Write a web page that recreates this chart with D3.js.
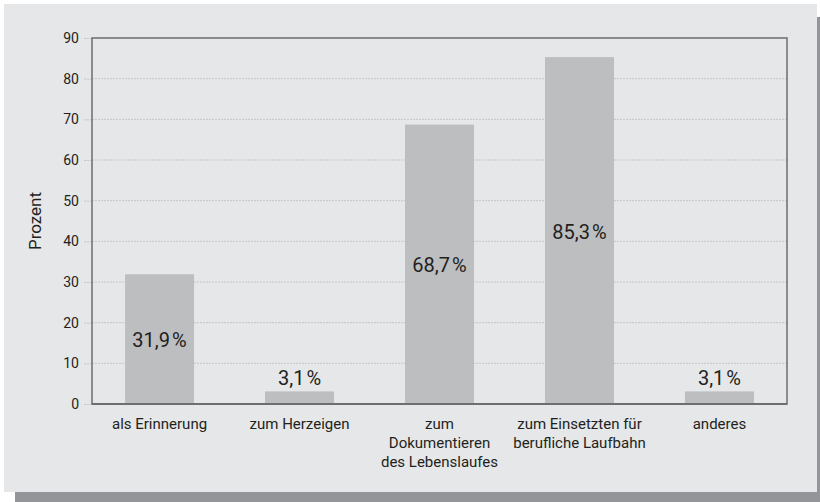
<!DOCTYPE html>
<html>
<head>
<meta charset="utf-8">
<script src="https://cdn.jsdelivr.net/npm/d3@7"></script>
<style>
  html, body { margin: 0; padding: 0; background: #ffffff; }
  #chart { width: 820px; height: 502px; }
  text { font-family: Roboto, "Liberation Sans", sans-serif; fill: #231f20; }
</style>
</head>
<body>
<div id="chart"></div>
<script>
const categories = [
  ["als Erinnerung"],
  ["zum Herzeigen"],
  ["zum", "Dokumentieren", "des Lebenslaufes"],
  ["zum Einsetzten für", "berufliche Laufbahn"],
  ["anderes"]
];
const values = [31.9, 3.1, 68.7, 85.3, 3.1];
const yTicks = [0, 10, 20, 30, 40, 50, 60, 70, 80, 90];
const yTitle = "Prozent";

function draw() {
  const w = 820, h = 502;
  const margin = { top: 38, right: 33, bottom: 98, left: 92 };
  const innerW = w - margin.left - margin.right;
  const innerH = h - margin.top - margin.bottom;

  const svg = d3.select("#chart")
    .append("svg")
    .attr("width", w)
    .attr("height", h);

  // shadow + panel
  svg.append("rect")
    .attr("x", 15).attr("y", 17)
    .attr("width", w - 15).attr("height", h - 17)
    .attr("fill", "#939598");
  svg.append("rect")
    .attr("x", 4).attr("y", 4)
    .attr("width", 813).attr("height", 488)
    .attr("fill", "#e6e7e8");

  const g = svg.append("g")
    .attr("transform", `translate(${margin.left},${margin.top})`);

  const data = categories.map((c, i) => ({ label: c, value: values[i] }));

  const xScale = d3.scaleBand()
    .domain(d3.range(categories.length))
    .range([0, innerW])
    .paddingInner(0.507)
    .paddingOuter(0.236);

  const yScale = d3.scaleLinear()
    .domain([0, 90])
    .range([innerH, 0]);

  // gridlines
  g.append("g")
    .selectAll("line")
    .data(yTicks.slice(1, -1))
    .join("line")
    .attr("x1", 0).attr("x2", innerW)
    .attr("y1", d => yScale(d)).attr("y2", d => yScale(d))
    .attr("stroke", "#c4c5c7")
    .attr("stroke-width", 1)
    .attr("stroke-dasharray", "2,1");

  // y axis ticks + labels
  const yAxis = g.append("g")
    .call(d3.axisLeft(yScale).tickValues(yTicks).tickSize(9).tickPadding(4));
  yAxis.select(".domain").remove();
  yAxis.selectAll(".tick line")
    .attr("stroke", "#c4c5c7")
    .attr("stroke-dasharray", "2,1");
  yAxis.selectAll(".tick text")
    .style("font-size", "14px")
    .style("font-family", "Roboto, sans-serif")
    .attr("fill", "#231f20");

  // bars
  g.selectAll("rect.bar")
    .data(data)
    .join("rect")
    .attr("class", "bar")
    .attr("x", (d, i) => xScale(i))
    .attr("width", xScale.bandwidth())
    .attr("y", d => yScale(d.value))
    .attr("height", d => innerH - yScale(d.value))
    .attr("fill", "#bcbec0");

  // frame
  g.append("rect")
    .attr("x", 0).attr("y", 0)
    .attr("width", innerW).attr("height", innerH)
    .attr("fill", "none")
    .attr("stroke", "#6d6e71")
    .attr("stroke-width", 1.5);
  g.append("line")
    .attr("x1", 0).attr("x2", innerW)
    .attr("y1", innerH).attr("y2", innerH)
    .attr("stroke", "#6d6e71")
    .attr("stroke-width", 2);

  // value labels
  const fmt = v => d3.format(".1f")(v).replace(".", ",") + "\u200a%";
  g.selectAll("text.val")
    .data(data)
    .join("text")
    .attr("class", "val")
    .attr("x", (d, i) => xScale(i) + xScale.bandwidth() / 2)
    .attr("y", d => d.value < 10
      ? yScale(d.value) - 6
      : (yScale(d.value) + innerH) / 2 + 8)
    .attr("text-anchor", "middle")
    .style("font-size", "20px")
    .text(d => fmt(d.value));

  // category labels
  const cat = g.selectAll("text.cat")
    .data(data)
    .join("text")
    .attr("class", "cat")
    .attr("x", (d, i) => xScale(i) + xScale.bandwidth() / 2)
    .attr("y", innerH + 25)
    .attr("text-anchor", "middle")
    .style("font-size", "15px");
  cat.selectAll("tspan")
    .data((d, i) => d.label.map(t => ({ t, x: xScale(i) + xScale.bandwidth() / 2 })))
    .join("tspan")
    .attr("x", d => d.x)
    .attr("dy", (d, j) => j === 0 ? 0 : 19)
    .text(d => d.t);

  // y title
  svg.append("text")
    .attr("transform", `translate(41, ${margin.top + innerH / 2}) rotate(-90)`)
    .attr("text-anchor", "middle")
    .style("font-size", "17px")
    .text(yTitle);
}

draw();
</script>
</body>
</html>
